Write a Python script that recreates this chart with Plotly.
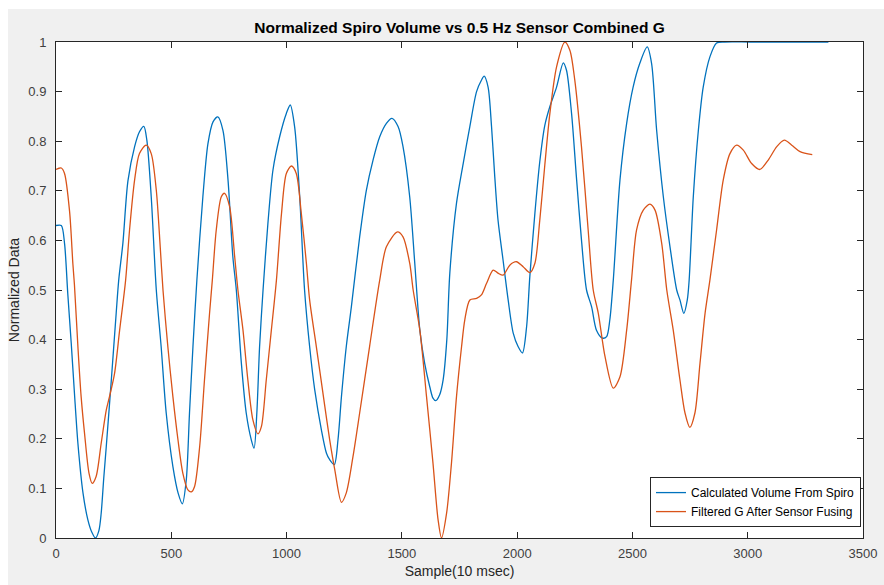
import plotly.graph_objects as go

# ---- data ----
spiro_x = [0, 23, 37, 51, 66, 80, 95, 117, 138, 155, 171, 186, 196, 207, 218, 240, 261, 272, 290, 312,
           341, 362, 381, 394, 413, 435, 456, 478, 507, 530, 548, 565, 579, 594, 611, 637, 659, 681,
           702, 724, 746, 767, 782, 804, 825, 847, 859, 871, 883, 898, 919, 941, 970, 999, 1016, 1035,
           1057, 1078, 1100, 1122, 1151, 1173, 1187, 1207, 1223, 1238, 1259, 1281, 1317, 1346,
           1375, 1404, 1433, 1457, 1484, 1505, 1534, 1556, 1578, 1599, 1621, 1635, 1647, 1664, 1679,
           1695, 1708, 1737, 1766, 1795, 1824, 1845, 1857, 1874, 1889, 1903, 1917, 1939, 1961, 1983,
           2004, 2023, 2041, 2055, 2077, 2098, 2120, 2142, 2171, 2200, 2214, 2236, 2258, 2279, 2301,
           2323, 2344, 2370, 2388, 2402, 2417, 2446, 2475, 2503, 2532, 2564, 2583, 2605, 2634, 2663,
           2692, 2706, 2723, 2738, 2746, 2764, 2786, 2807, 2836, 2865, 2900, 3010, 3155, 3350]
spiro_y = [0.630, 0.630, 0.594, 0.493, 0.393, 0.292, 0.191, 0.091, 0.037, 0.012, 0.0, 0.015, 0.05, 0.12,
           0.184, 0.319, 0.453, 0.52, 0.594, 0.72, 0.789, 0.819, 0.830, 0.802, 0.688, 0.5, 0.386, 0.252,
           0.144, 0.09, 0.069, 0.117, 0.252, 0.386, 0.52, 0.688, 0.795, 0.839, 0.849, 0.822, 0.722,
           0.567, 0.5, 0.352, 0.252, 0.198, 0.181, 0.252, 0.386, 0.5, 0.634, 0.742, 0.809, 0.856, 0.873,
           0.829, 0.688, 0.5, 0.386, 0.299, 0.218, 0.171, 0.158, 0.148, 0.198, 0.285, 0.386, 0.466,
           0.607, 0.701, 0.762, 0.809, 0.836, 0.846, 0.829, 0.789, 0.688, 0.554, 0.419, 0.352, 0.305,
           0.282, 0.277, 0.289, 0.319, 0.40, 0.534, 0.675, 0.755, 0.83, 0.9, 0.923, 0.931, 0.909, 0.829,
           0.728, 0.641, 0.56, 0.48, 0.413, 0.386, 0.373, 0.426, 0.527, 0.655, 0.758, 0.832, 0.87, 0.909,
           0.958, 0.943, 0.856, 0.722, 0.601, 0.5, 0.466, 0.419, 0.403, 0.406, 0.44, 0.52, 0.722, 0.836,
           0.909, 0.957, 0.99, 0.957, 0.822, 0.688, 0.587, 0.5, 0.48, 0.453, 0.48, 0.52, 0.688, 0.822,
           0.909, 0.97, 0.998, 1.0, 1.0, 1.0, 1.0]

g_x = [0, 23, 37, 59, 73, 80, 95, 109, 124, 143, 157, 174, 196, 218, 232, 254, 276, 302, 319, 341, 362,
       391, 413, 435, 452, 464, 485, 507, 529, 550, 572, 587, 601, 623, 644, 666, 678, 695, 717, 731,
       753, 775, 789, 811, 832, 854, 876, 891, 912, 934, 956, 978, 999, 1021, 1042, 1064, 1086, 1100,
       1129, 1166, 1187, 1209, 1238, 1259, 1288, 1317, 1360, 1404, 1433, 1481, 1505, 1534, 1549, 1578,
       1607, 1635, 1657, 1672, 1694, 1715, 1737, 1759, 1773, 1795, 1824, 1845, 1867, 1896, 1917, 1939,
       1968, 1997, 2026, 2055, 2077, 2098, 2120, 2142, 2171, 2207, 2229, 2250, 2279, 2308, 2330, 2352,
       2381, 2417, 2446, 2475, 2496, 2518, 2547, 2576, 2598, 2627, 2649, 2677, 2706, 2728, 2749, 2771,
       2793, 2815, 2836, 2865, 2894, 2923, 2952, 2981, 3017, 3053, 3089, 3126, 3159, 3191, 3227, 3280]
g_y = [0.743, 0.746, 0.735, 0.658, 0.554, 0.51, 0.386, 0.285, 0.21, 0.131, 0.11, 0.124, 0.191, 0.258,
       0.285, 0.332, 0.419, 0.52, 0.621, 0.722, 0.775, 0.792, 0.775, 0.701, 0.587, 0.5, 0.386, 0.285,
       0.198, 0.131, 0.097, 0.093, 0.104, 0.184, 0.319, 0.453, 0.52, 0.621, 0.688, 0.695, 0.668, 0.567,
       0.5, 0.419, 0.319, 0.238, 0.21, 0.225, 0.319, 0.419, 0.52, 0.654, 0.735, 0.75, 0.735, 0.654,
       0.554, 0.48, 0.386, 0.265, 0.198, 0.138, 0.072, 0.091, 0.164, 0.252, 0.386, 0.52, 0.587, 0.617,
       0.607, 0.554, 0.5, 0.419, 0.285, 0.151, 0.037, 0.0, 0.05, 0.15, 0.285, 0.386, 0.44, 0.48, 0.483,
       0.49, 0.513, 0.54, 0.534, 0.53, 0.55, 0.557, 0.547, 0.535, 0.554, 0.64, 0.752, 0.856, 0.95, 1.0,
       0.983, 0.923, 0.789, 0.621, 0.5, 0.453, 0.366, 0.302, 0.325, 0.419, 0.52, 0.621, 0.661, 0.673,
       0.661, 0.594, 0.5, 0.419, 0.319, 0.252, 0.223, 0.252, 0.352, 0.453, 0.52, 0.621, 0.722, 0.775,
       0.792, 0.782, 0.755, 0.743, 0.762, 0.789, 0.802, 0.792, 0.779, 0.773]

series_names = ["Calculated Volume From Spiro", "Filtered G After Sensor Fusing"]
series_colors = ["#0072BD", "#D95319"]

title_text = "Normalized Spiro Volume vs 0.5 Hz Sensor Combined G"
x_title = "Sample(10 msec)"
y_title = "Normalized Data"

FONT = "Liberation Sans, Arial, Helvetica, sans-serif"
AX = "#262626"

fig = go.Figure()
for xs, ys, name, col in [(spiro_x, spiro_y, series_names[0], series_colors[0]),
                          (g_x, g_y, series_names[1], series_colors[1])]:
    fig.add_trace(go.Scatter(x=xs, y=ys, mode="lines", name=name,
                             line=dict(color=col, width=1.3, shape="spline", smoothing=0.8)))

axis_common = dict(showgrid=False, zeroline=False, showline=True, linecolor=AX, linewidth=1,
                   mirror="ticks", ticks="inside", ticklen=6, tickwidth=1, tickcolor=AX,
                   automargin=False,
                   tickfont=dict(family=FONT, size=13, color="#404040"))

fig.update_xaxes(range=[0, 3500], dtick=500, tick0=0, ticklabelstandoff=3,
                 title=dict(text=x_title, font=dict(family=FONT, size=14, color="#262626"), standoff=6),
                 **axis_common)
fig.update_yaxes(range=[0, 1], dtick=0.1, tick0=0, ticklabelstandoff=6,
                 title=dict(text=y_title, font=dict(family=FONT, size=14, color="#262626"), standoff=5),
                 **axis_common)

fig.update_layout(
    width=884, height=585,
    margin=dict(l=56, r=21, t=42, b=47, autoexpand=False),
    paper_bgcolor="#f0f0f0", plot_bgcolor="white",
    title=dict(text="<b>" + title_text + "</b>", x=0.5, xref="paper", xanchor="center",
               y=1 - 28 / 585, yref="container", yanchor="middle",
               font=dict(family=FONT, size=15.5, color="#000000")),
    legend=dict(x=0.9975, y=0.022, xanchor="right", yanchor="bottom",
                bgcolor="white", bordercolor=AX, borderwidth=1,
                font=dict(family=FONT, size=12, color="#000000"),
                tracegroupgap=0),
    showlegend=True,
    shapes=[
        dict(type="rect", xref="paper", yref="paper", x0=-0.2, x1=1.2,
             y0=(538 - 9) / 496, y1=1.3, fillcolor="white", line=dict(width=0), layer="below"),
        dict(type="rect", xref="paper", yref="paper", x0=-0.2, x1=(8 - 56) / 807,
             y0=-0.3, y1=1.3, fillcolor="white", line=dict(width=0), layer="below"),
    ],
)

fig.write_html("out.html")
